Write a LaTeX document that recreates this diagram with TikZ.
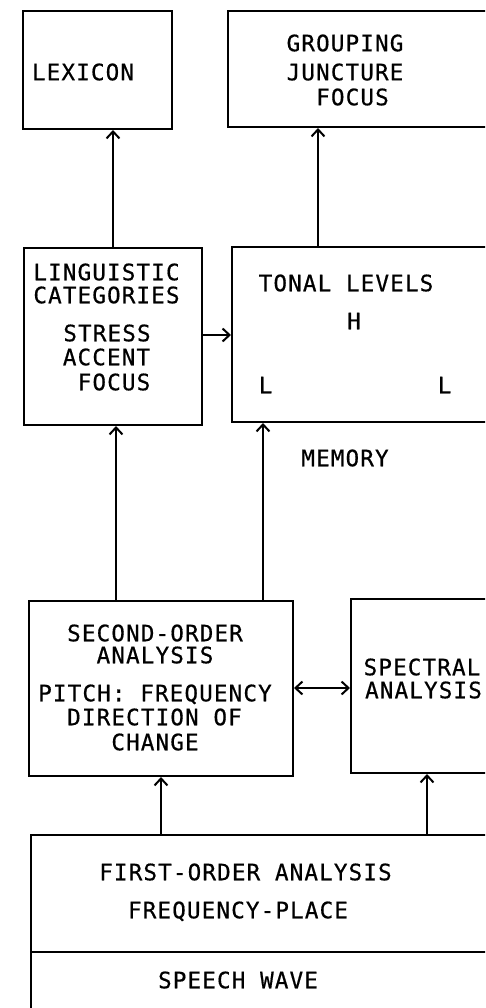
\documentclass[tikz,border=0pt]{standalone}
\usepackage{fontspec}
\newfontfamily\diafont[LetterSpace=5,FakeBold=0.6]{DejaVu Sans Mono}
\usetikzlibrary{arrows.meta}
\tikzset{
  box/.style={draw, line width=2pt, rectangle, inner sep=0pt},
  lbl/.style={font=\diafont\fontsize{22.6}{24}\selectfont, inner sep=0pt, text height=16.5pt, text depth=0pt, anchor=center},
  tip/.style={Straight Barb[length=7pt,width=13pt,line width=2pt]},
  arr/.style={line width=2pt, -{Straight Barb[length=7pt,width=13pt,line width=2pt]}},
  darr/.style={line width=2pt, {Straight Barb[length=7pt,width=13pt,line width=2pt]}-{Straight Barb[length=7pt,width=13pt,line width=2pt]}}
}
\begin{document}
\begin{tikzpicture}[x=1pt,y=-1pt]
\useasboundingbox (0,0) rectangle (485,1008);
\clip (0,0) rectangle (485,1008);
% boxes
\node[box, minimum width=149pt, minimum height=118pt] (lex) at (97.5,70) {};
\node[box, minimum width=267pt, minimum height=116pt] (grp) at (361.5,69) {};
\node[box, minimum width=178pt, minimum height=177pt] (ling) at (113,336.5) {};
\node[box, minimum width=263pt, minimum height=175pt] (tonal) at (363.5,334.5) {};
\node[box, minimum width=264pt, minimum height=175pt] (sec) at (161,688.5) {};
\node[box, minimum width=144pt, minimum height=174pt] (spec) at (423,686) {};
\node[box, minimum width=464pt, minimum height=195pt] (first) at (263,932.5) {};
\coordinate (divl) at (31,952);
\coordinate (divr) at (495,952);
\draw[line width=2pt] (divl) -- (divr);
% texts
\node[lbl] (t1) at (83,72) {LEXICON};
\node[lbl] (t2) at (345,43) {GROUPING};
\node[lbl] (t3) at (345,72) {JUNCTURE};
\node[lbl] (t4) at (352.5,97) {FOCUS};
\node[lbl] (t5) at (106.5,272) {LINGUISTIC};
\node[lbl] (t6) at (106.5,295) {CATEGORIES};
\node[lbl] (t7) at (107,333) {STRESS};
\node[lbl] (t8) at (106.5,357) {ACCENT};
\node[lbl] (t9) at (114,382) {FOCUS};
\node[lbl] (t10) at (346,283) {TONAL LEVELS};
\node[lbl] (t11) at (354,321) {H};
\node[lbl] (t12) at (265.5,385) {L};
\node[lbl] (t13) at (444.5,385) {L};
\node[lbl] (t14) at (345,458) {MEMORY};
\node[lbl] (t15) at (155,633) {SECOND-ORDER};
\node[lbl] (t16) at (155,655) {ANALYSIS};
\node[lbl] (t17) at (155,693) {PITCH: FREQUENCY};
\node[lbl] (t18) at (154.5,717) {DIRECTION OF};
\node[lbl] (t19) at (155,742) {CHANGE};
\node[lbl] (t20) at (422,667) {SPECTRAL};
\node[lbl] (t21) at (423.5,690) {ANALYSIS};
\node[lbl] (t22) at (245.5,872) {FIRST-ORDER ANALYSIS};
\node[lbl] (t23) at (238,910) {FREQUENCY-PLACE};
\node[lbl] (t24) at (238,980) {SPEECH WAVE};
% connectors
\draw[arr] (ling.north -| 113,0) -- (lex.south -| 113,0);
\draw[arr] (tonal.north -| 318,0) -- (grp.south -| 318,0);
\draw[arr] (ling.east |- 0,335) -- (tonal.west |- 0,335);
\draw[arr] (sec.north -| 116,0) -- (ling.south -| 116,0);
\draw[arr] (sec.north -| 263,0) -- (tonal.south -| 263,0);
\draw[darr] (sec.east |- 0,688) -- (spec.west |- 0,688);
\draw[arr] (first.north -| 161,0) -- (sec.south -| 161,0);
\draw[arr] (first.north -| 427,0) -- (spec.south -| 427,0);
\end{tikzpicture}
\end{document}
